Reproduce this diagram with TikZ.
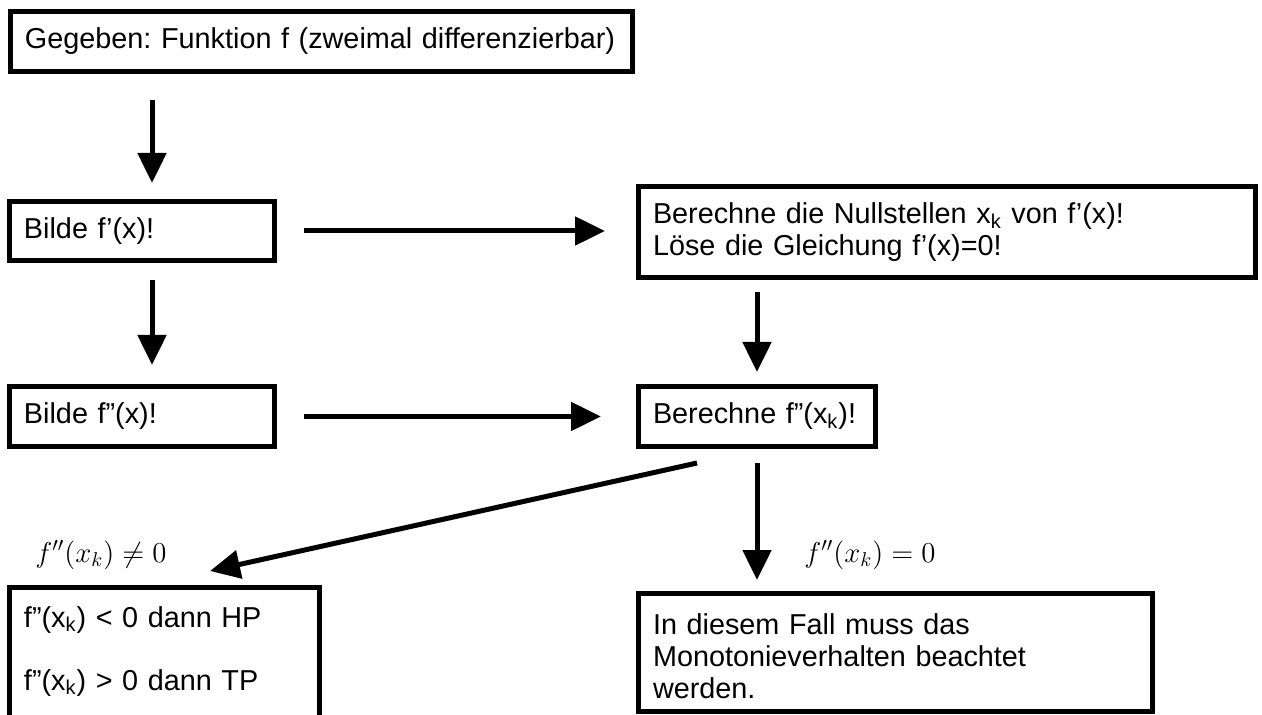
\documentclass[tikz,border=0pt]{standalone}
\usepackage{fontspec}
\setmainfont{Liberation Sans}
\usetikzlibrary{arrows.meta,calc}
\frenchspacing
\begin{document}
\begin{tikzpicture}[x=0.5pt,y=-0.5pt,
  box/.style={draw, line width=2.5pt, rectangle, anchor=north west, align=left,
    outer sep=0pt, inner xsep=7.25pt, inner ysep=0pt, font=\fontsize{14.4}{16}\selectfont},
  arr/.style={line width=2.5pt, -{Triangle[length=15pt,width=14pt]}},
  lbl/.style={anchor=base west, inner sep=0pt, font=\fontsize{14.4}{16}\selectfont}]
\useasboundingbox (0,0) rectangle (1262,715);
\clip (0,0) rectangle (1262,715);
\coordinate (xL) at (152,0);
\coordinate (xR) at (757,0);
% boxes
\node[box, text width=296.5pt, minimum height=30pt] (b1) at (10.5,11.5)
  {Gegeben: Funktion f (zweimal differenzierbar)};
\node[box, text width=118pt, minimum height=29.5pt] (b2) at (9.5,201.5)
  {Bilde f’(x)!};
\node[box, text width=294pt, minimum height=45.5pt] (b3) at (638.5,186.5)
  {Berechne die Nullstellen x\textsubscript{k} von f’(x)!\\Löse die Gleichung f’(x)=0!};
\node[box, text width=118pt, minimum height=30pt] (b4) at (9.5,386.5)
  {Bilde f”(x)!};
\node[box, text width=104pt, minimum height=30pt] (b5) at (638.5,386.5)
  {Berechne f”(x\textsubscript{k})!};
\node[box, text width=140.5pt, inner ysep=9.5pt] (b6) at (9.5,587.5)
  {f”(x\textsubscript{k}) < 0 dann HP\\[15.5pt]f”(x\textsubscript{k}) > 0 dann TP\rule[-45pt]{0pt}{45pt}};
\node[box, text width=242.5pt, minimum height=59pt] (b7) at (638.5,593.5)
  {\rule{0pt}{14.5pt}In diesem Fall muss das\\Monotonieverhalten beachtet\\werden.};
% labels
\node[lbl] (l1) at (35,562) {$f''(x_k)\neq 0$};
\node[lbl] (l2) at (804,562) {$f''(x_k)=0$};
% arrows
\draw[arr, shorten <=14.25pt, shorten >=9.25pt] (b1.south -| xL) -- (b2.north -| xL);
\draw[arr, shorten <=14.75pt, shorten >=16.75pt] (b2.east) -- (b2.east -| b3.west);
\draw[arr, shorten <=9.75pt, shorten >=10.75pt] (b2.south -| xL) -- (b4.north -| xL);
\draw[arr, shorten <=7.25pt, shorten >=7.25pt] (b3.south -| xR) -- (b5.north -| xR);
\draw[arr, shorten <=14.75pt, shorten >=18.75pt] (b4.east) -- (b4.east -| b5.west);
\draw[arr] ($(b5.south west)+(58.5,16.5)$) -- ($(b6.north east)+(-109.5,-16.5)$);
\draw[arr, shorten <=8.25pt, shorten >=6.75pt] (b5.south -| xR) -- (b7.north -| xR);
\end{tikzpicture}
\end{document}
